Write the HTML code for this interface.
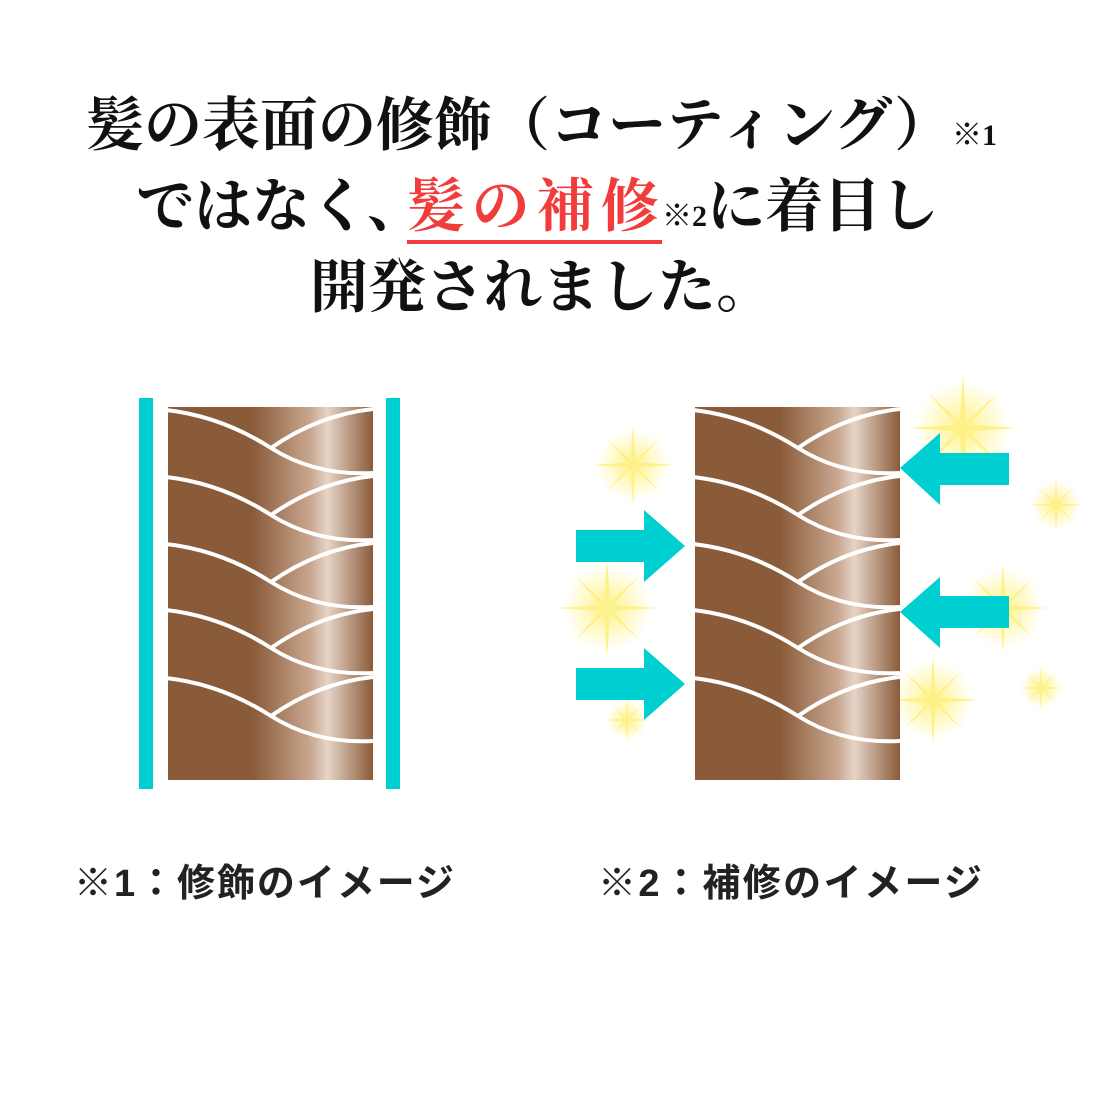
<!DOCTYPE html>
<html><head><meta charset="utf-8"><style>
body{margin:0;background:#fff;}
svg{display:block}
.t{font-family:"Liberation Serif","Noto Serif CJK SC",serif;font-size:58px;font-weight:bold;fill:#111;}
.c{font-family:"Liberation Sans","Noto Sans CJK JP",sans-serif;font-size:38px;font-weight:bold;fill:#222;}
</style></head><body>
<svg width="1100" height="1100" viewBox="0 0 1100 1100" xmlns="http://www.w3.org/2000/svg">
<defs>
<linearGradient id="hg" x1="0" x2="1" y1="0" y2="0">
<stop offset="0" stop-color="#8a5b39"/><stop offset="0.42" stop-color="#8a5b39"/>
<stop offset="0.7" stop-color="#c9a890"/><stop offset="0.78" stop-color="#e6d4c8"/>
<stop offset="1" stop-color="#8a5b39"/></linearGradient>
<radialGradient id="glow"><stop offset="0" stop-color="#fff27a" stop-opacity="0.9"/><stop offset="1" stop-color="#fff27a" stop-opacity="0"/></radialGradient>
<g id="hair">
<rect x="0" y="0" width="207" height="373" fill="url(#hg)"/>
<g fill="none" stroke="#fff" stroke-width="4">
<path id="r" d="M0 3 C45 8 80 25 105 41 C135 60 170 68 207 66 M105 41 C135 20 170 6 207 2"/>
<use href="#r" y="67"/><use href="#r" y="134"/><use href="#r" y="200"/><use href="#r" y="268"/>
</g>
<rect x="-3" y="-3" width="5" height="380" fill="#fff"/>
</g>
<g id="sp">
<circle r="40" fill="url(#glow)"/>
<path d="M0 -45 L3 -3 L45 0 L3 3 L0 45 L-3 3 L-45 0 L-3 -3Z M-30 -30 L2 -1 L30 30 L-2 1Z M30 -30 L1 2 L-30 30 L-1 -2Z" fill="#fff18a"/>
</g>
</defs>
<text class="t" x="86" y="145">髪の表面の修飾（コーティング）<tspan font-size="30">※1</tspan></text>
<text class="t" x="136" y="226">ではなく、</text>
<text class="t" x="407" y="226" style="fill:#f23c3c" textLength="252" lengthAdjust="spacing">髪の補修</text>
<text class="t" x="662" y="226"><tspan font-size="30">※2</tspan>に着目し</text>
<rect x="407" y="240" width="255" height="4" fill="#f23c3c"/>
<text class="t" x="310" y="307">開発されました。</text>

<rect x="139" y="398" width="14" height="391" fill="#00cfd1"/>
<rect x="386" y="398" width="14" height="391" fill="#00cfd1"/>
<use href="#hair" x="166" y="407"/>

<use href="#sp" transform="translate(633,465) scale(0.9)"/>
<use href="#sp" transform="translate(963,428) scale(1.2)"/>
<use href="#sp" transform="translate(1056,505) scale(0.6)"/>
<use href="#sp" transform="translate(607,608) scale(1.1)"/>
<use href="#sp" transform="translate(1003,608) scale(1.0)"/>
<use href="#sp" transform="translate(933,700) scale(1.0)"/>
<use href="#sp" transform="translate(1041,688) scale(0.5)"/>
<use href="#sp" transform="translate(627,720) scale(0.5)"/>
<use href="#hair" x="693" y="407"/>

<g fill="#00cfd1">
<path d="M576 530 H644 V510 L685 546 L644 582 V562 H576Z"/>
<path d="M576 668 H644 V648 L685 684 L644 720 V700 H576Z"/>
<path d="M1009 453 H940 V433 L900 468 L940 505 V485 H1009Z"/>
<path d="M1009 596 H940 V577 L900 612 L940 648 V628 H1009Z"/>
</g>

<text class="c" x="74" y="896" textLength="380" lengthAdjust="spacing">※1：修飾のイメージ</text>
<text class="c" x="598" y="896" textLength="384" lengthAdjust="spacing">※2：補修のイメージ</text>
</svg>
</body></html>
